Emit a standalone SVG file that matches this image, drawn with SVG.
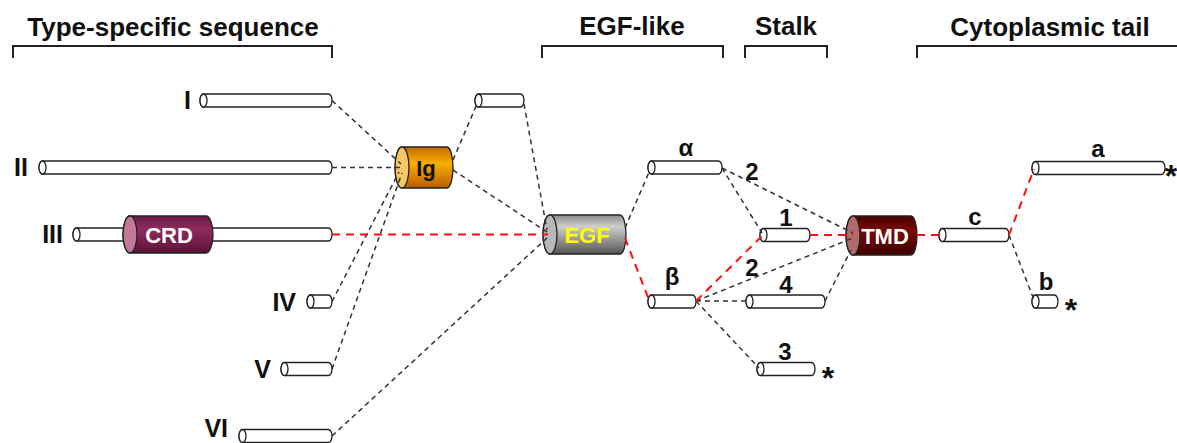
<svg xmlns="http://www.w3.org/2000/svg" width="1177" height="443" viewBox="0 0 1177 443">
<style>
text{font-family:"Liberation Sans",Arial,sans-serif;font-weight:bold;fill:#111}
.hd{font-size:26px;text-anchor:middle}
.rn{font-size:25px;text-anchor:end}
.lb{font-size:24px;text-anchor:middle}
.ast{font-size:32px;text-anchor:middle}
.nt{font-size:22px;text-anchor:middle}
.br{fill:none;stroke:#222;stroke-width:2}
.tube{fill:#fff;stroke:#222;stroke-width:1.3}
.big{stroke:#222;stroke-width:1.3}
.blk{fill:none;stroke:#333;stroke-width:1.5;stroke-dasharray:5,4}
.red{fill:none;stroke:#ff1010;stroke-width:2;stroke-dasharray:8,6}
</style>
<defs>
<linearGradient id="gIg" x1="0" y1="0" x2="0" y2="1">
<stop offset="0" stop-color="#c46a00"/><stop offset="0.4" stop-color="#f7b000"/><stop offset="1" stop-color="#b85c00"/>
</linearGradient>
<linearGradient id="gEGF" x1="0" y1="0" x2="0" y2="1">
<stop offset="0" stop-color="#8a8a8a"/><stop offset="0.3" stop-color="#cfcfcf"/><stop offset="1" stop-color="#555"/>
</linearGradient>
<linearGradient id="gTMD" x1="0" y1="0" x2="0" y2="1">
<stop offset="0" stop-color="#4a0000"/><stop offset="0.35" stop-color="#7a0a0a"/><stop offset="1" stop-color="#3e0000"/>
</linearGradient>
<linearGradient id="gCRD" x1="0" y1="0" x2="0" y2="1">
<stop offset="0" stop-color="#6a1a44"/><stop offset="0.35" stop-color="#8e2c5e"/><stop offset="1" stop-color="#5e1238"/>
</linearGradient>
</defs>

<g id="headers">
<text class="hd" x="173" y="36">Type-specific sequence</text>
<path class="br" d="M13,58 V46 H332 V58"/>
<text class="hd" x="632" y="35">EGF-like</text>
<path class="br" d="M542,58 V46 H723 V58"/>
<text class="hd" x="786" y="35">Stalk</text>
<path class="br" d="M745,58 V46 H827 V58"/>
<text class="hd" x="1050" y="36">Cytoplasmic tail</text>
<path class="br" d="M917,58 V46 H1177"/>
</g>

<g id="typeI">
<text class="rn" x="191" y="109">I</text>
<path class="tube" d="M203.5,94 H328.5 A3.5,6.5 0 0 1 328.5,107 H203.5 A3.5,6.5 0 0 1 203.5,94 Z"/>
<ellipse class="tube" cx="203.5" cy="100.5" rx="3.5" ry="6.5"/>
</g>
<g id="typeII">
<text class="rn" x="28" y="176">II</text>
<path class="tube" d="M42.5,161 H328.5 A3.5,6.5 0 0 1 328.5,174 H42.5 A3.5,6.5 0 0 1 42.5,161 Z"/>
<ellipse class="tube" cx="42.5" cy="167.5" rx="3.5" ry="6.5"/>
</g>
<g id="typeIII">
<text class="rn" x="63" y="243">III</text>
<path class="tube" d="M76.5,228 H328.5 A3.5,6.5 0 0 1 328.5,241 H76.5 A3.5,6.5 0 0 1 76.5,228 Z"/>
<ellipse class="tube" cx="76.5" cy="234.5" rx="3.5" ry="6.5"/>
</g>
<g id="CRD">
<path class="big" fill="url(#gCRD)" d="M130,216 H206 A7,18.5 0 0 1 206,253 H130 A7,18.5 0 0 1 130,216 Z"/>
<ellipse class="big" fill="#c27898" cx="130" cy="234.5" rx="7" ry="18.5"/>
<text class="nt" x="169" y="242.5" style="fill:#fff">CRD</text>
</g>
<g id="typeIV">
<text class="rn" x="296" y="311">IV</text>
<path class="tube" d="M310.5,295 H328.5 A3.5,6.5 0 0 1 328.5,308 H310.5 A3.5,6.5 0 0 1 310.5,295 Z"/>
<ellipse class="tube" cx="310.5" cy="301.5" rx="3.5" ry="6.5"/>
</g>
<g id="typeV">
<text class="rn" x="271" y="378">V</text>
<path class="tube" d="M284.5,362.5 H328.5 A3.5,6.5 0 0 1 328.5,375.5 H284.5 A3.5,6.5 0 0 1 284.5,362.5 Z"/>
<ellipse class="tube" cx="284.5" cy="369" rx="3.5" ry="6.5"/>
</g>
<g id="typeVI">
<text class="rn" x="228" y="437">VI</text>
<path class="tube" d="M242.5,429.5 H328.5 A3.5,6.5 0 0 1 328.5,442.5 H242.5 A3.5,6.5 0 0 1 242.5,429.5 Z"/>
<ellipse class="tube" cx="242.5" cy="436" rx="3.5" ry="6.5"/>
</g>

<g id="Ig">
<path class="big" fill="url(#gIg)" d="M402,147 H447 A6,20.5 0 0 1 447,188 H402 A7,20.5 0 0 1 402,147 Z"/>
<ellipse class="big" fill="#f6c766" cx="402" cy="167.5" rx="7" ry="20.5"/>
<text class="nt" x="426" y="175.5">Ig</text>
</g>
<g id="linker">
<path class="tube" d="M478.5,94 H520.5 A3.5,6.5 0 0 1 520.5,107 H478.5 A3.5,6.5 0 0 1 478.5,94 Z"/>
<ellipse class="tube" cx="478.5" cy="100.5" rx="3.5" ry="6.5"/>
</g>
<g id="EGF">
<path class="big" fill="url(#gEGF)" d="M550,215 H620 A6,19.5 0 0 1 620,254 H550 A7,19.5 0 0 1 550,215 Z"/>
<ellipse class="big" fill="#b8b8b8" cx="550" cy="234.5" rx="7" ry="19.5"/>
<text class="nt" x="587" y="242.5" style="fill:#ffff00">EGF</text>
</g>
<g id="alpha">
<text class="lb" x="686" y="156">α</text>
<path class="tube" d="M651.5,161 H718.5 A3.5,6.5 0 0 1 718.5,174 H651.5 A3.5,6.5 0 0 1 651.5,161 Z"/>
<ellipse class="tube" cx="651.5" cy="167.5" rx="3.5" ry="6.5"/>
</g>
<g id="beta">
<text class="lb" x="672" y="285">β</text>
<path class="tube" d="M651.5,295 H692.5 A3.5,6.5 0 0 1 692.5,308 H651.5 A3.5,6.5 0 0 1 651.5,295 Z"/>
<ellipse class="tube" cx="651.5" cy="301.5" rx="3.5" ry="6.5"/>
</g>
<g id="stalk1">
<text class="lb" x="786" y="226">1</text>
<path class="tube" d="M763.5,228.5 H806.5 A3.5,6.5 0 0 1 806.5,241.5 H763.5 A3.5,6.5 0 0 1 763.5,228.5 Z"/>
<ellipse class="tube" cx="763.5" cy="235" rx="3.5" ry="6.5"/>
</g>
<g id="stalk4">
<text class="lb" x="786" y="293">4</text>
<path class="tube" d="M749.5,295 H821.5 A3.5,6.5 0 0 1 821.5,308 H749.5 A3.5,6.5 0 0 1 749.5,295 Z"/>
<ellipse class="tube" cx="749.5" cy="301.5" rx="3.5" ry="6.5"/>
</g>
<g id="stalk3">
<text class="lb" x="785" y="360">3</text>
<path class="tube" d="M760.5,362.5 H811.5 A3.5,6.5 0 0 1 811.5,375.5 H760.5 A3.5,6.5 0 0 1 760.5,362.5 Z"/>
<ellipse class="tube" cx="760.5" cy="369" rx="3.5" ry="6.5"/>
<text class="ast" x="828" y="389">*</text>
</g>
<g id="labels2">
<text class="lb" x="752" y="180">2</text>
<text class="lb" x="752" y="276">2</text>
</g>
<g id="TMD">
<path class="big" fill="url(#gTMD)" d="M853,216 H911 A6,19.5 0 0 1 911,255 H853 A7,19.5 0 0 1 853,216 Z"/>
<ellipse class="big" fill="#b06a6a" cx="853" cy="235.5" rx="7" ry="19.5"/>
<text class="nt" x="885" y="243.5" style="fill:#fff">TMD</text>
</g>
<g id="tailC">
<text class="lb" x="975" y="225">c</text>
<path class="tube" d="M942.5,228.5 H1005.5 A3.5,6.5 0 0 1 1005.5,241.5 H942.5 A3.5,6.5 0 0 1 942.5,228.5 Z"/>
<ellipse class="tube" cx="942.5" cy="235" rx="3.5" ry="6.5"/>
</g>
<g id="tailA">
<text class="lb" x="1098" y="157">a</text>
<path class="tube" d="M1035.5,161.5 H1161.5 A3.5,6.5 0 0 1 1161.5,174.5 H1035.5 A3.5,6.5 0 0 1 1035.5,161.5 Z"/>
<ellipse class="tube" cx="1035.5" cy="168" rx="3.5" ry="6.5"/>
<text class="ast" x="1171" y="187">*</text>
</g>
<g id="tailB">
<text class="lb" x="1046" y="290">b</text>
<path class="tube" d="M1035.5,295 H1054.5 A3.5,6.5 0 0 1 1054.5,308 H1035.5 A3.5,6.5 0 0 1 1035.5,295 Z"/>
<ellipse class="tube" cx="1035.5" cy="301.5" rx="3.5" ry="6.5"/>
<text class="ast" x="1071" y="321">*</text>
</g>

<g id="connectors">
<path class="blk" d="M332,100.5 L401,164"/>
<path class="blk" d="M332,167.5 L401,167.5"/>
<path class="blk" d="M332,301.5 L399,172"/>
<path class="blk" d="M332,369 L402,173"/>
<path class="blk" d="M453,160 L477,104"/>
<path class="blk" d="M524,104 L547,230"/>
<path class="blk" d="M453,170 L547,232"/>
<path class="blk" d="M332,436 L547,238"/>
<path class="blk" d="M625,228 L650,170"/>
<path class="blk" d="M722,168 L762,233"/>
<path class="blk" d="M722,168 L853,233"/>
<path class="blk" d="M696,301 L853,238"/>
<path class="blk" d="M696,301 L746,301"/>
<path class="blk" d="M696,301 L759,368"/>
<path class="blk" d="M825,301 L851,250"/>
<path class="blk" d="M1009,235 L1034,300"/>
<path class="red" d="M332,234.5 L548,234.5"/>
<path class="red" d="M625,238 L649,300"/>
<path class="red" d="M696,301 L762,236"/>
<path class="red" d="M810,235 L853,235"/>
<path class="red" d="M917,235 L940,235"/>
<path class="red" d="M1009,235 L1034,169"/>
</g>
</svg>
